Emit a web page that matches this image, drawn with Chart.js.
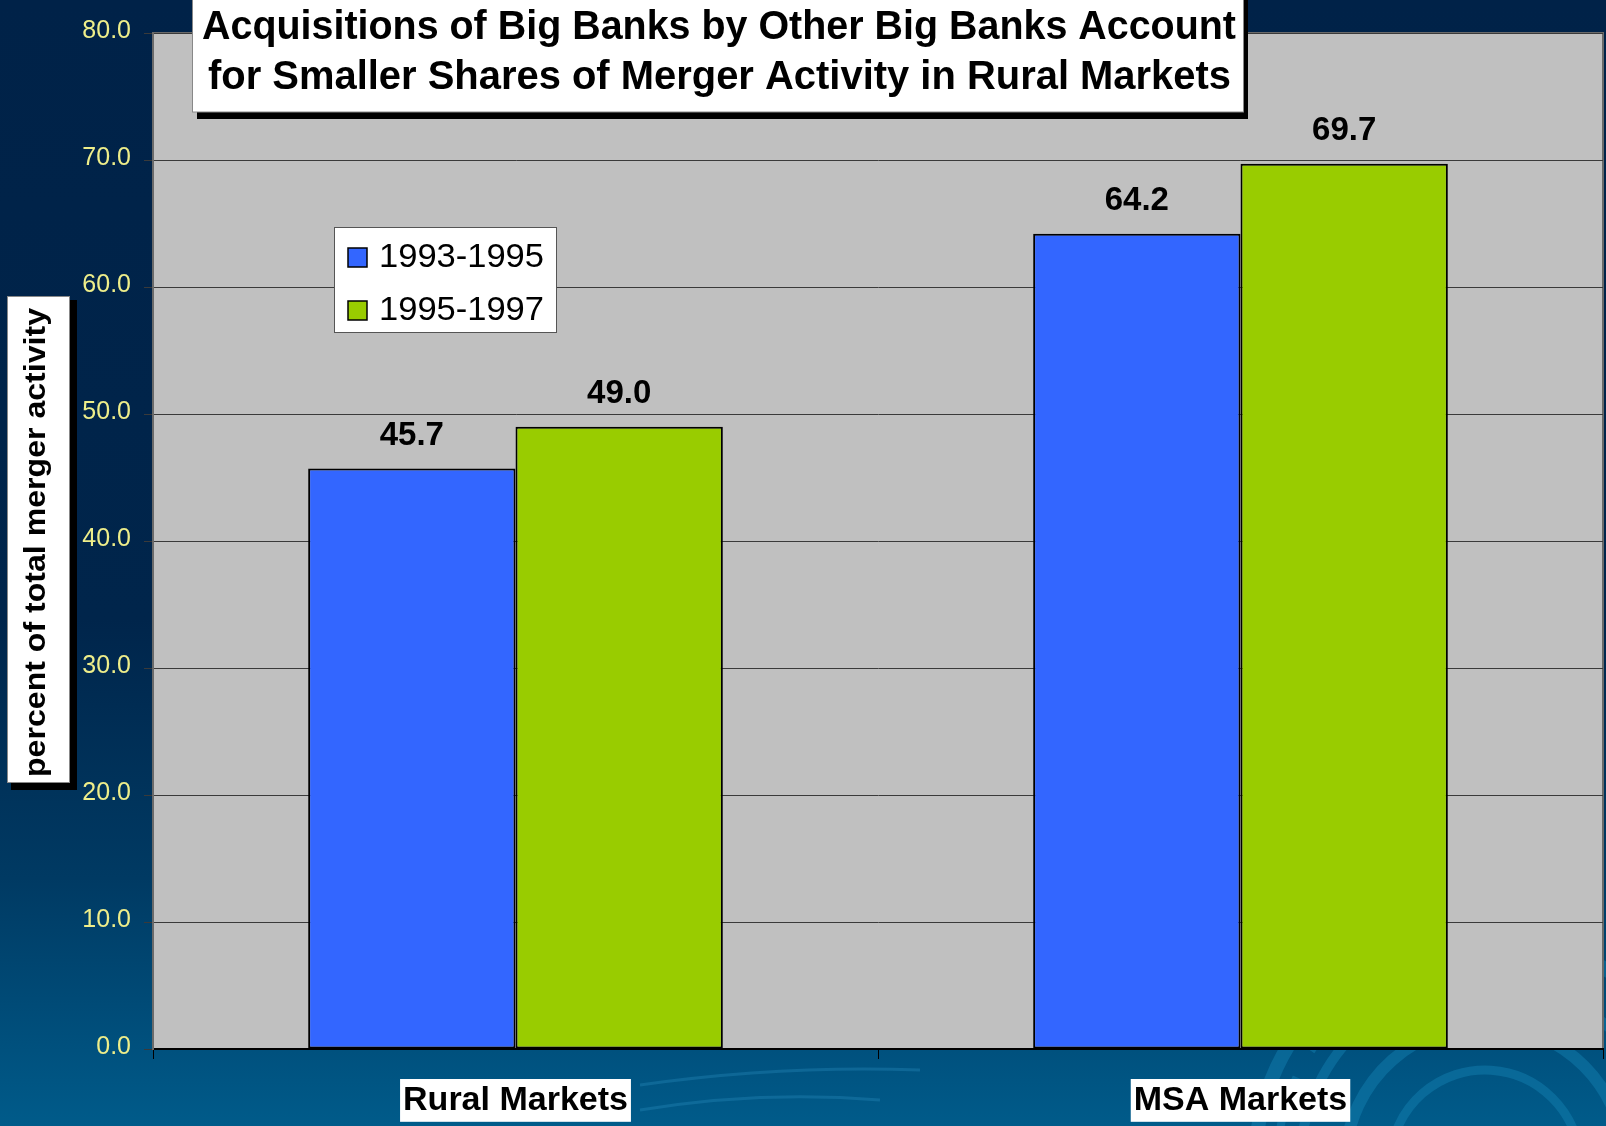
<!DOCTYPE html>
<html>
<head>
<meta charset="utf-8">
<script src="https://cdn.jsdelivr.net/npm/chart.js@4/dist/chart.umd.min.js"></script>
<style>
  html, body { margin: 0; padding: 0; background: #002248; }
  #wrap { width: 1606px; height: 1126px; position: relative; }
  canvas { display: block; }
</style>
</head>
<body>
<div id="wrap"><canvas id="c" width="1606" height="1126"></canvas></div>
<script>
// ---- data ----
const categories = ['Rural Markets', 'MSA Markets'];
const seriesNames = ['1993-1995', '1995-1997'];
const values9395 = [45.7, 64.2];
const values9597 = [49.0, 69.7];
const yTicks = [0, 10, 20, 30, 40, 50, 60, 70, 80];
const titleLines = ['Acquisitions of Big Banks by Other Big Banks Account',
                    'for Smaller Shares of Merger Activity in Rural Markets'];
const yTitle = 'percent of total merger activity';

const FONT = '"Liberation Sans", Arial, Helvetica, sans-serif';

function fitText(ctx, text, x, y, target, align) {
  const w = ctx.measureText(text).width;
  ctx.save();
  ctx.translate(x, y);
  ctx.scale(target / w, 1);
  ctx.textAlign = align || 'center';
  ctx.fillText(text, 0, 0);
  ctx.restore();
}

const decor = {
  id: 'decor',
  beforeDraw(chart) {
    const ctx = chart.ctx;
    const W = chart.width, H = chart.height;
    ctx.save();
    const g = ctx.createLinearGradient(0, 0, 0, H);
    g.addColorStop(0, '#002248');
    g.addColorStop(0.55, '#00254b');
    g.addColorStop(0.78, '#003a63');
    g.addColorStop(1, '#005b8a');
    ctx.fillStyle = g;
    ctx.fillRect(0, 0, W, H);
    // decorative rings bottom-right
    ctx.strokeStyle = 'rgba(20,130,180,0.45)';
    const cx = 1485, cy = 1165;
    [[230, 14], [185, 10], [140, 12], [95, 9]].forEach(([r, lw]) => {
      ctx.lineWidth = lw;
      ctx.beginPath();
      ctx.arc(cx, cy, r, Math.PI * 1.02, Math.PI * 1.98);
      ctx.stroke();
    });
    ctx.setLineDash([14, 30]);
    ctx.lineWidth = 8;
    ctx.beginPath();
    ctx.arc(cx, cy, 208, Math.PI * 1.05, Math.PI * 1.95);
    ctx.stroke();
    ctx.setLineDash([]);
    // faint swooshes
    ctx.strokeStyle = 'rgba(40,140,190,0.35)';
    ctx.lineWidth = 3;
    ctx.beginPath(); ctx.moveTo(640, 1085); ctx.quadraticCurveTo(780, 1065, 920, 1070); ctx.stroke();
    ctx.beginPath(); ctx.moveTo(640, 1110); ctx.quadraticCurveTo(760, 1090, 880, 1100); ctx.stroke();
    // plot background
    const a = chart.chartArea;
    ctx.fillStyle = '#c0c0c0';
    ctx.fillRect(a.left, a.top, a.right - a.left, a.bottom - a.top);
    ctx.strokeStyle = '#6a6a6a';
    ctx.lineWidth = 2;
    ctx.beginPath();
    ctx.moveTo(a.left, a.bottom);
    ctx.lineTo(a.left, a.top);
    ctx.lineTo(a.right, a.top);
    ctx.lineTo(a.right, a.bottom);
    ctx.stroke();
    ctx.restore();
  },
  afterDatasetsDraw(chart) {
    const ctx = chart.ctx;
    ctx.save();
    // value labels
    ctx.fillStyle = '#000';
    ctx.font = 'bold 33px ' + FONT;
    ctx.textAlign = 'center';
    ctx.textBaseline = 'alphabetic';
    chart.data.datasets.forEach((ds, i) => {
      chart.getDatasetMeta(i).data.forEach((bar, j) => {
        ctx.fillText(ds.data[j].toFixed(1), bar.x, bar.y - 24);
      });
    });
    // legend
    ctx.fillStyle = '#fff';
    ctx.fillRect(334, 227, 223, 106);
    ctx.strokeStyle = '#555';
    ctx.lineWidth = 1;
    ctx.strokeRect(334.5, 227.5, 222, 105);
    const rows = [267, 320];
    chart.data.datasets.forEach((ds, i) => {
      const by = rows[i];
      ctx.fillStyle = ds.backgroundColor;
      ctx.fillRect(348, by - 19, 19, 19);
      ctx.strokeStyle = '#000';
      ctx.lineWidth = 1.5;
      ctx.strokeRect(348, by - 19, 19, 19);
      ctx.fillStyle = '#000';
      ctx.font = '33px ' + FONT;
      fitText(ctx, ds.label, 379, by, 165, 'left');
    });
    // title box
    ctx.fillStyle = '#000';
    ctx.fillRect(197, 0, 1051, 119);
    ctx.fillStyle = '#fff';
    ctx.fillRect(192, -2, 1052, 114);
    ctx.strokeStyle = '#888';
    ctx.lineWidth = 1;
    ctx.strokeRect(192.5, -2, 1051, 114);
    ctx.fillStyle = '#000';
    ctx.font = 'bold 40px ' + FONT;
    fitText(ctx, titleLines[0], 719, 39, 1034);
    fitText(ctx, titleLines[1], 719.5, 89, 1023);
    // y-axis title box
    ctx.fillStyle = '#000';
    ctx.fillRect(11, 300, 66, 490);
    ctx.fillStyle = '#fff';
    ctx.fillRect(7, 296, 63, 487);
    ctx.strokeStyle = '#888';
    ctx.strokeRect(7.5, 296.5, 62, 486);
    ctx.fillStyle = '#000';
    ctx.font = 'bold 30px ' + FONT;
    ctx.save();
    ctx.translate(45, 542.5);
    ctx.rotate(-Math.PI / 2);
    fitText(ctx, yTitle, 0, 0, 469);
    ctx.restore();
    ctx.restore();
  }
};

new Chart(document.getElementById('c'), {
  type: 'bar',
  data: {
    labels: categories,
    datasets: [
      { label: seriesNames[0], data: values9395, backgroundColor: '#3366ff',
        borderColor: '#000', borderWidth: 2, borderSkipped: false },
      { label: seriesNames[1], data: values9597, backgroundColor: '#99cc00',
        borderColor: '#000', borderWidth: 2, borderSkipped: false }
    ]
  },
  options: {
    responsive: false,
    devicePixelRatio: 1,
    animation: false,
    layout: { padding: { top: 33, right: 3, left: 0, bottom: 0 } },
    plugins: {
      legend: { display: false },
      title: { display: false },
      tooltip: { enabled: false }
    },
    datasets: { bar: { categoryPercentage: 0.572, barPercentage: 1.0 } },
    scales: {
      x: {
        offset: true,
        grid: { display: true, drawOnChartArea: false, offset: true, tickLength: 10, color: '#000', lineWidth: 1 },
        border: { display: true, color: '#000', width: 2 },
        ticks: {
          color: '#000',
          font: { family: FONT, size: 34, weight: 'bold', lineHeight: 1.2 },
          padding: 21,
          showLabelBackdrop: true,
          backdropColor: '#ffffff',
          backdropPadding: { top: 1, bottom: 1, left: 3, right: 3 },
          maxRotation: 0
        },
        afterFit(scale) { scale.height = 77; }
      },
      y: {
        min: 0, max: 80,
        afterBuildTicks(scale) { scale.ticks = yTicks.map(v => ({ value: v })); },
        grid: { color: '#3a3a3a', lineWidth: 1, tickLength: 9, drawTicks: true },
        border: { display: true, color: '#6a6a6a', width: 2 },
        ticks: {
          color: '#eeee8a',
          font: { family: FONT, size: 25 },
          padding: 13,
          labelOffset: -2,
          callback: (v) => Number(v).toFixed(1)
        },
        afterFit(scale) { scale.width = 153; }
      }
    }
  },
  plugins: [decor]
});
</script>
</body>
</html>
